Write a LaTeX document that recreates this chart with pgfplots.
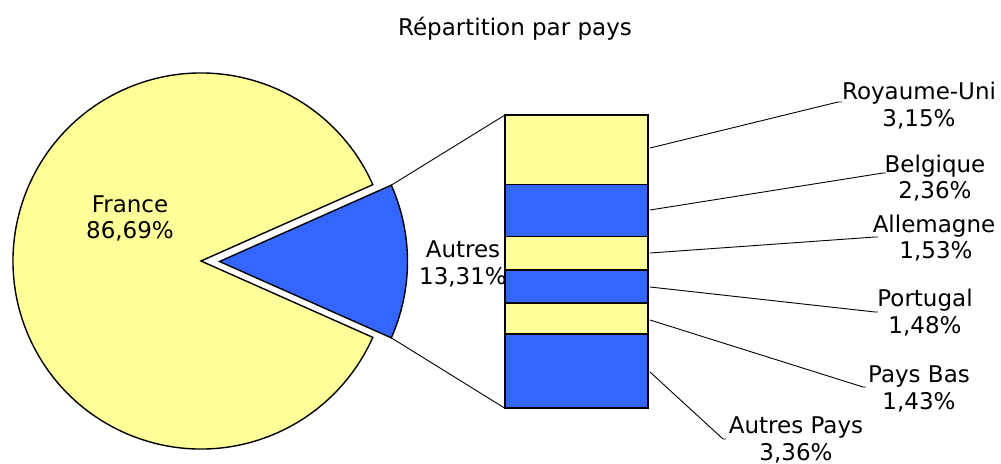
\documentclass[border=0pt]{standalone}
\usepackage{pgfplots}
\pgfplotsset{compat=1.18}
\usepackage{fontspec}
\setmainfont{DejaVu Sans}
\definecolor{pieyellow}{HTML}{FFFF99}
\definecolor{pieblue}{HTML}{3366FF}
% pie data (percent)
\def\pFrance{86.69}
\def\pAutres{13.31}
\begin{document}
\begin{tikzpicture}[lbl/.style={anchor=base, font=\fontsize{11.5}{13}\selectfont, inner sep=0pt}]
\pgfmathsetmacro\half{\pAutres*3.6/2}
\begin{axis}[x=0.5pt, y=0.5pt, xmin=0, xmax=1001, ymin=0, ymax=463,
  hide axis, clip=false, enlargelimits=false]
\path (axis cs:0,0) rectangle (axis cs:1001,463);
% France slice
\fill[overlay, pieyellow, draw=black, line width=0.7pt] (axis cs:201,202) -- ++(\half:94pt)
  arc[start angle=\half, end angle=360-\half, radius=94pt] -- cycle;
% Autres slice (exploded)
\fill[overlay, pieblue, draw=black, line width=0.7pt] (axis cs:219.5,201.5) -- ++(-\half:94pt)
  arc[start angle=-\half, end angle=\half, radius=94pt] -- cycle;
% connectors
\draw[line width=0.45pt] (axis cs:219.5,201.5) ++(\half:94pt) -- (axis cs:505,348);
\draw[line width=0.45pt] (axis cs:219.5,201.5) ++(-\half:94pt) -- (axis cs:505,54.7);
\coordinate (barSW) at (axis cs:505,54.7);
% leader lines
\draw[line width=0.45pt] (axis cs:650,315) -- (axis cs:838,361) -- (axis cs:842,361);
\draw[line width=0.45pt] (axis cs:650,253) -- (axis cs:883,290) -- (axis cs:886,290);
\draw[line width=0.45pt] (axis cs:650,210) -- (axis cs:875,226) -- (axis cs:878,226);
\draw[line width=0.45pt] (axis cs:650,176) -- (axis cs:875,151) -- (axis cs:878,151);
\draw[line width=0.45pt] (axis cs:650,143) -- (axis cs:863,76) -- (axis cs:866,76);
\draw[line width=0.45pt] (axis cs:650,91) -- (axis cs:723,24) -- (axis cs:726,24);
% labels
\node[lbl] at (axis cs:515,428) {Répartition par pays};
\node[lbl] at (axis cs:130,251) {France};
\node[lbl] at (axis cs:130,225) {86,69\%};
\node[lbl] at (axis cs:463,206) {Autres};
\node[lbl] at (axis cs:463,179) {13,31\%};
\node[lbl] at (axis cs:919,364) {Royaume-Uni};
\node[lbl] at (axis cs:919,337) {3,15\%};
\node[lbl] at (axis cs:935,291) {Belgique};
\node[lbl] at (axis cs:935,265) {2,36\%};
\node[lbl] at (axis cs:934,231) {Allemagne};
\node[lbl] at (axis cs:936,205) {1,53\%};
\node[lbl] at (axis cs:925,157) {Portugal};
\node[lbl] at (axis cs:925,130) {1,48\%};
\node[lbl] at (axis cs:919,81) {Pays Bas};
\node[lbl] at (axis cs:919,54) {1,43\%};
\node[lbl] at (axis cs:796,30) {Autres Pays};
\node[lbl] at (axis cs:796,3) {3,36\%};
\end{axis}
\begin{axis}[at={(barSW)}, anchor=south west, width=71.65pt, height=146.65pt,
  scale only axis, hide axis, xmin=-0.5, xmax=0.5, ymin=0, ymax=13.31,
  ybar stacked, bar width=71.65pt, clip=false]
\addplot[fill=pieblue, draw=black, line width=0.9pt] coordinates {(0,3.36)};   % Autres Pays
\addplot[fill=pieyellow, draw=black, line width=0.9pt] coordinates {(0,1.43)}; % Pays Bas
\addplot[fill=pieblue, draw=black, line width=0.9pt] coordinates {(0,1.48)};   % Portugal
\addplot[fill=pieyellow, draw=black, line width=0.9pt] coordinates {(0,1.53)}; % Allemagne
\addplot[fill=pieblue, draw=black, line width=0.9pt] coordinates {(0,2.36)};   % Belgique
\addplot[fill=pieyellow, draw=black, line width=0.9pt] coordinates {(0,3.15)}; % Royaume-Uni
\end{axis}
\end{tikzpicture}
\end{document}
